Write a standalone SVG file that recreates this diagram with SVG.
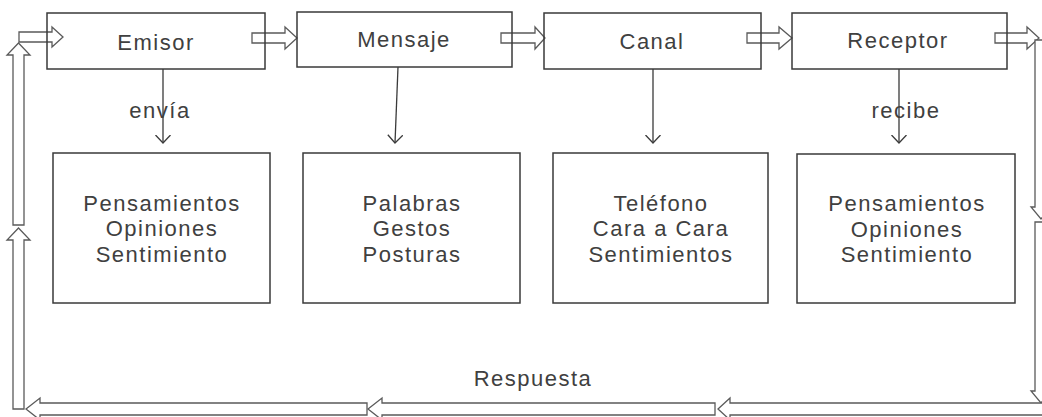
<svg xmlns="http://www.w3.org/2000/svg" width="1042" height="417" viewBox="0 0 1042 417">
<style>
.box{fill:none;stroke:#3a3a3a;stroke-width:1.5}
.blk{fill:#fff;stroke:#5a5a5a;stroke-width:1.3}
.ln{fill:none;stroke:#3a3a3a;stroke-width:1.3}
text{font-family:"Liberation Sans",Arial,sans-serif;font-size:22px;letter-spacing:1.5px;fill:#404040;text-anchor:middle}
</style>
<defs>
<marker id="v" viewBox="0 0 10 16" refX="8.5" refY="7.5" markerWidth="10" markerHeight="16" markerUnits="userSpaceOnUse" orient="auto">
<path d="M0.5,0 L8.5,7.5 L0.5,15" fill="none" stroke="#3a3a3a" stroke-width="1.3"/>
</marker>
</defs>
<rect width="1042" height="417" fill="#fff"/>
<g id="connectors">
<path class="blk" d="M19,32 H52 V27 L63,37 L52,47 V42 H19 Z"/>
<path class="blk" d="M252,33 H285 V27 L297,38 L285,49 V43 H252 Z"/>
<path class="blk" d="M501,33 H535 V27 L545,38 L535,49 V43 H501 Z"/>
<path class="blk" d="M747,33 H779 V27 L792,38 L779,49 V43 H747 Z"/>
<path class="blk" d="M995,33 H1027 V27 L1039,38 L1027,49 V43 H995 Z"/>
<path class="blk" d="M1035,40 V207 H1031 L1041,219 L1051,207 H1047 V40 Z"/>
<path class="blk" d="M1035,222 V391 H1031 L1041,403 L1051,391 H1047 V222 Z"/>
<path class="blk" d="M1050,403 H730 V398 L718,409 L730,420 V415 H1050 Z"/>
<path class="blk" d="M715,403 H382 V398 L368,409 L382,420 V415 H715 Z"/>
<path class="blk" d="M367,403 H40 V398 L26,409 L40,420 V415 H367 Z"/>
<path class="blk" d="M13,225 V55 H7 L18.5,43 L30,55 H24 V225 Z"/>
<path class="blk" d="M13,409 V240 H7 L18.5,228 L30,240 H24 V409 Z"/>
<line class="ln" x1="163" y1="69" x2="163" y2="143" marker-end="url(#v)"/>
<line class="ln" x1="398" y1="67" x2="395" y2="143" marker-end="url(#v)"/>
<line class="ln" x1="653" y1="69" x2="653" y2="143" marker-end="url(#v)"/>
<line class="ln" x1="899" y1="69" x2="899" y2="143" marker-end="url(#v)"/>
<text x="160" y="118">envía</text>
<text x="906" y="118">recibe</text>
<text x="533" y="386">Respuesta</text>
</g>
<g id="emisor"><rect class="box" x="47" y="13" width="218" height="56"/><text x="156" y="50">Emisor</text></g>
<g id="mensaje"><rect class="box" x="297" y="12" width="215" height="55"/><text x="404" y="47">Mensaje</text></g>
<g id="canal"><rect class="box" x="544" y="13" width="217" height="56"/><text x="652" y="49">Canal</text></g>
<g id="receptor"><rect class="box" x="792" y="13" width="215" height="56"/><text x="898" y="48">Receptor</text></g>
<g id="box1"><rect class="box" x="53" y="153" width="217" height="150"/><text x="162" y="211">Pensamientos</text><text x="162" y="236">Opiniones</text><text x="162" y="262">Sentimiento</text></g>
<g id="box2"><rect class="box" x="303" y="153" width="217" height="150"/><text x="412" y="211">Palabras</text><text x="412" y="236">Gestos</text><text x="412" y="262">Posturas</text></g>
<g id="box3"><rect class="box" x="553" y="153" width="215" height="150"/><text x="661" y="211">Teléfono</text><text x="661" y="236">Cara a Cara</text><text x="661" y="262">Sentimientos</text></g>
<g id="box4"><rect class="box" x="797" y="154" width="218" height="149"/><text x="907" y="211">Pensamientos</text><text x="907" y="237">Opiniones</text><text x="907" y="262">Sentimiento</text></g>
</svg>
